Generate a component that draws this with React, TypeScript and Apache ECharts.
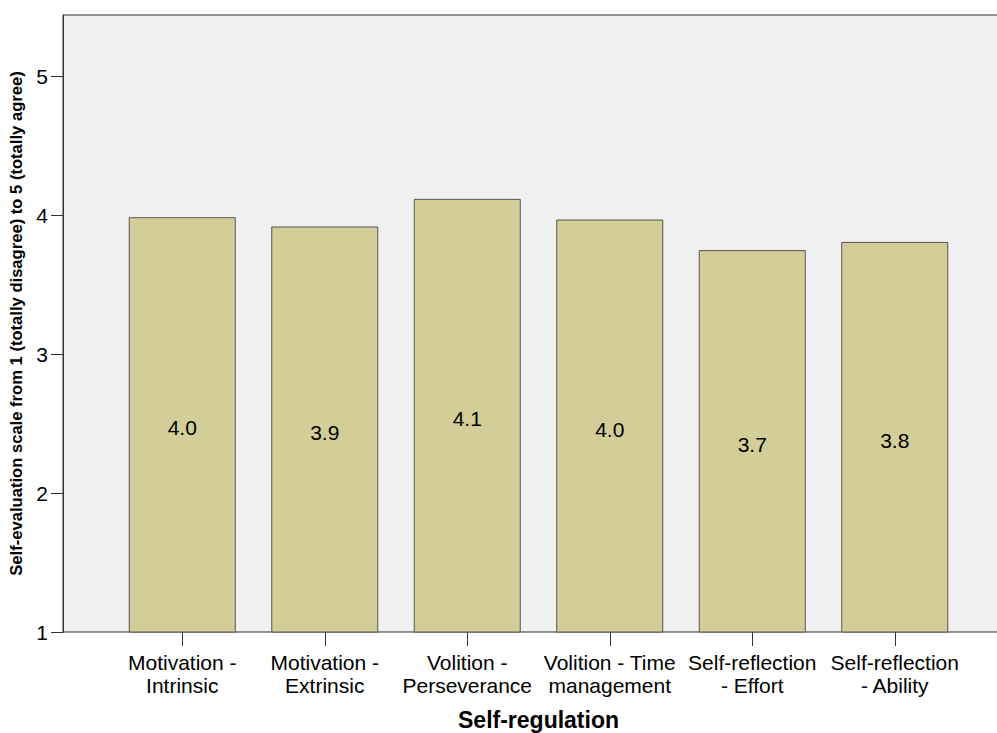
import React, { useEffect, useRef } from "react";
import * as echarts from "echarts";

const categories = [
  "Motivation -\nIntrinsic",
  "Motivation -\nExtrinsic",
  "Volition -\nPerseverance",
  "Volition - Time\nmanagement",
  "Self-reflection\n- Effort",
  "Self-reflection\n- Ability",
];
const values = [3.985, 3.918, 4.117, 3.968, 3.748, 3.807];
const yTicks = [1, 2, 3, 4, 5];

const FONT = "Arial, 'Liberation Sans', sans-serif";

export default function App() {
  const ref = useRef<HTMLDivElement>(null);
  useEffect(() => {
    if (!ref.current) return;
    const chart = echarts.init(ref.current, null, { renderer: "svg" });
    chart.setOption({
      animation: false,
      backgroundColor: "#ffffff",
      textStyle: { fontFamily: FONT },
      grid: [
        {
          left: 63,
          right: -2,
          top: 15,
          bottom: 101,
          show: true,
          backgroundColor: "#f0f0f0",
          borderColor: "#333333",
          borderWidth: 1,
          containLabel: false,
          outerBoundsMode: "none",
        },
        {
          left: 111,
          right: 31,
          top: 15,
          bottom: 101,
          show: false,
          containLabel: false,
          outerBoundsMode: "none",
        },
      ],
      xAxis: [
        { type: "category", gridIndex: 0, data: [""], show: false },
        {
          type: "category",
          gridIndex: 1,
          data: categories,
          axisLine: { show: false },
          axisTick: {
            show: true,
            alignWithLabel: true,
            length: 14,
            lineStyle: { color: "#333333", width: 1 },
          },
          axisLabel: {
            interval: 0,
            fontSize: 21,
            color: "#000000",
            fontFamily: FONT,
            margin: 19,
            lineHeight: 23,
          },
          name: "Self-regulation",
          nameLocation: "middle",
          nameGap: 76,
          nameTextStyle: {
            fontSize: 23,
            lineHeight: 24,
            fontWeight: "bold",
            color: "#000000",
            fontFamily: FONT,
          },
        },
      ],
      yAxis: [
        {
          type: "value",
          gridIndex: 0,
          min: 1,
          max: 5.44,
          interval: 1,
          splitLine: { show: false },
          axisLine: { show: true, lineStyle: { color: "#333333", width: 1 } },
          axisTick: {
            show: true,
            length: 12,
            customValues: yTicks,
            lineStyle: { color: "#333333", width: 1 },
          },
          axisLabel: {
            fontSize: 21,
            color: "#000000",
            fontFamily: FONT,
            margin: 15,
            customValues: yTicks,
          },
          name: "Self-evaluation scale from 1 (totally disagree) to 5 (totally agree)",
          nameLocation: "middle",
          nameGap: 38,
          nameTextStyle: {
            fontSize: 16.6,
            fontWeight: "bold",
            color: "#000000",
            fontFamily: FONT,
          },
        },
        {
          type: "value",
          gridIndex: 1,
          min: 1,
          max: 5.44,
          show: false,
          splitLine: { show: false },
        },
      ],
      series: [
        {
          type: "bar",
          xAxisIndex: 1,
          yAxisIndex: 1,
          data: values,
          barWidth: 107,
          clip: true,
          itemStyle: {
            color: "#d3ce97",
            borderColor: "#555555",
            borderWidth: 1,
          },
          label: {
            show: true,
            position: "inside",
            offset: [0, 3],
            fontSize: 21,
            color: "#000000",
            fontFamily: FONT,
            formatter: (p: any) => Number(p.value).toFixed(1),
          },
        },
      ],
    });
    return () => chart.dispose();
  }, []);
  return (
    <div
      ref={ref}
      style={{ position: "absolute", left: 0, top: 0, width: 997, height: 733 }}
    />
  );
}
